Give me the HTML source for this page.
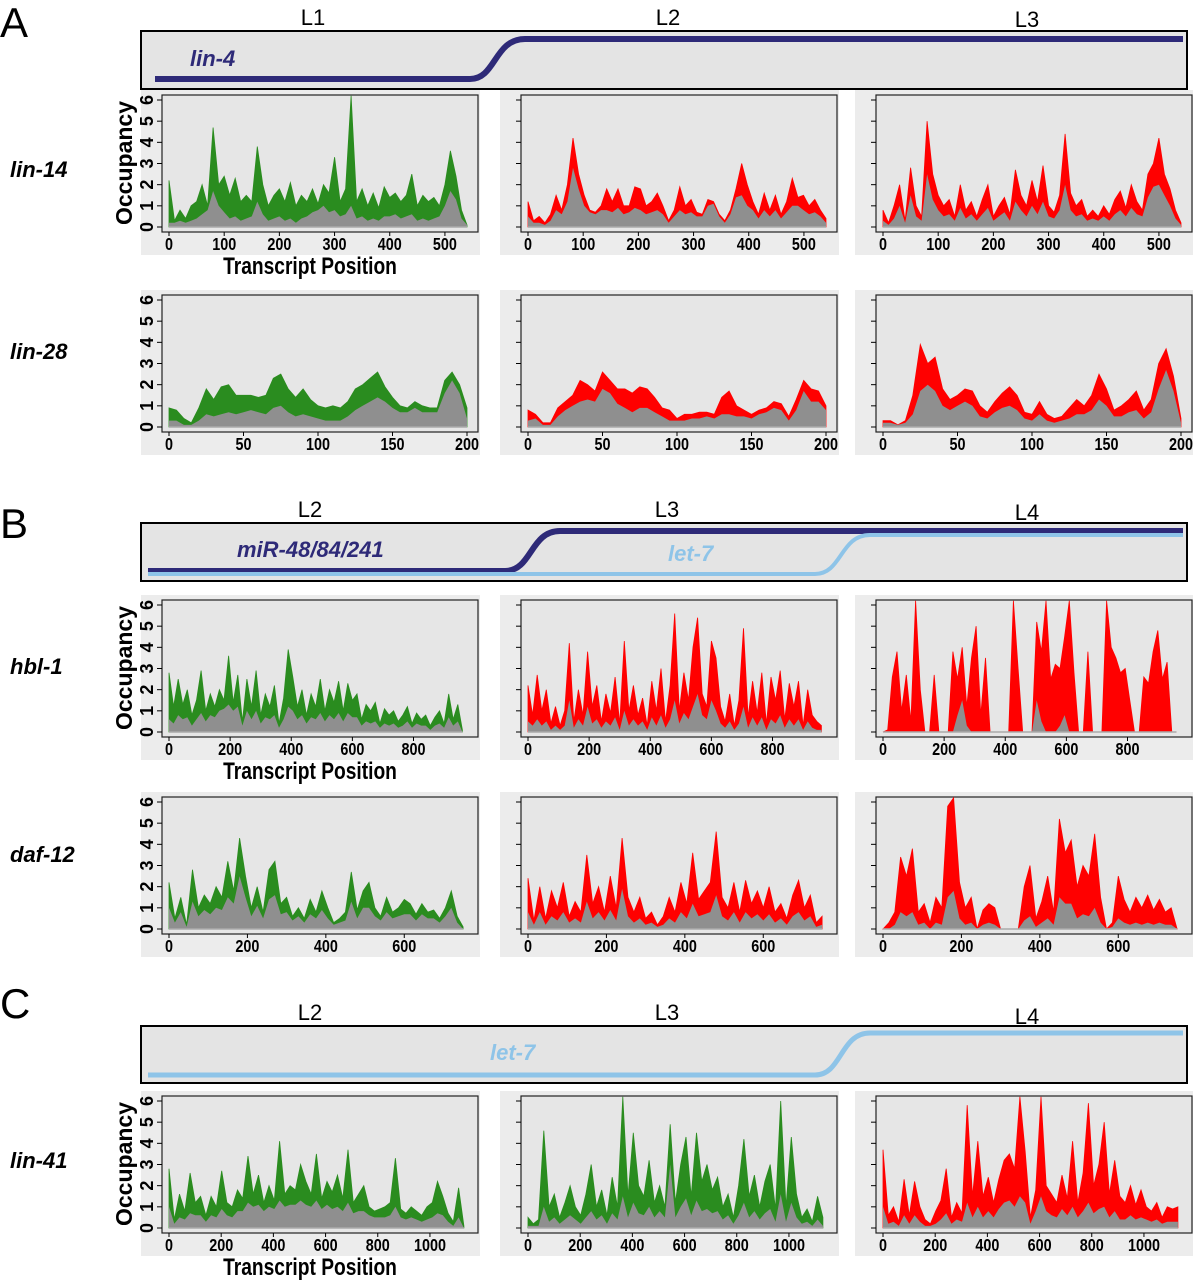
<!DOCTYPE html>
<html><head><meta charset="utf-8">
<style>
html,body{margin:0;padding:0;background:#fff;}
svg{display:block;font-family:"Liberation Sans",sans-serif;}
.stage{font-size:22px;fill:#000;}
.gene{font-size:22px;font-weight:bold;font-style:italic;fill:#000;}
.tick{font-size:18px;fill:#000;font-weight:bold;}
</style></head>
<body>
<svg id="fig" width="1193" height="1280" viewBox="0 0 1193 1280" xmlns="http://www.w3.org/2000/svg">
  <text x="0" y="37" font-size="42">A</text>
  <text x="0" y="538" font-size="42">B</text>
  <text x="0" y="1018" font-size="42">C</text>

  <text class="stage" x="313" y="25" text-anchor="middle">L1</text>
  <text class="stage" x="668" y="25" text-anchor="middle">L2</text>
  <text class="stage" x="1027" y="27" text-anchor="middle">L3</text>
  <rect x="141" y="31" width="1046" height="58" fill="#e4e4e4" stroke="#000" stroke-width="2"/>
  <path d="M155,79 L470,79 C496,79 494,39 525,39 L1183,39" fill="none" stroke="#2e2a78" stroke-width="6"/>
  <text x="190" y="66" font-size="22" font-weight="bold" font-style="italic" fill="#2e2a78">lin-4</text>

  <text class="stage" x="310" y="517" text-anchor="middle">L2</text>
  <text class="stage" x="667" y="517" text-anchor="middle">L3</text>
  <text class="stage" x="1027" y="520" text-anchor="middle">L4</text>
  <rect x="141" y="523" width="1046" height="58" fill="#e4e4e4" stroke="#000" stroke-width="2"/>
  <path d="M148,571 L505,571 C532,571 530,531 560,531 L1183,531" fill="none" stroke="#2e2a78" stroke-width="6"/>
  <path d="M148,574 L815,574 C842,574 840,535 870,535 L1183,535" fill="none" stroke="#8ec4e8" stroke-width="4"/>
  <text x="237" y="557" font-size="22" font-weight="bold" font-style="italic" fill="#2e2a78">miR-48/84/241</text>
  <text x="668" y="561" font-size="22" font-weight="bold" font-style="italic" fill="#8ec4e8">let-7</text>

  <text class="stage" x="310" y="1020" text-anchor="middle">L2</text>
  <text class="stage" x="667" y="1020" text-anchor="middle">L3</text>
  <text class="stage" x="1027" y="1024" text-anchor="middle">L4</text>
  <rect x="141" y="1026" width="1046" height="57" fill="#e4e4e4" stroke="#000" stroke-width="2"/>
  <path d="M148,1075 L815,1075 C842,1075 840,1033 870,1033 L1183,1033" fill="none" stroke="#8ec4e8" stroke-width="5"/>
  <text x="490" y="1060" font-size="22" font-weight="bold" font-style="italic" fill="#8ec4e8">let-7</text>

  <text class="gene" x="10" y="177">lin-14</text>
  <text class="gene" x="10" y="359">lin-28</text>
  <text class="gene" x="10" y="674">hbl-1</text>
  <text class="gene" x="10" y="862">daf-12</text>
  <text class="gene" x="10" y="1168">lin-41</text>
  <g id="plots"></g>
</svg>
<script>
// ---- data (occupancy values, evenly spaced over transcript) ----
const lin14_L1_top=[2.2,0.3,0.8,0.4,1.0,1.2,2.0,1.0,4.7,2.0,2.4,1.5,2.3,1.2,1.5,1.2,3.8,2.0,1.0,1.5,1.8,1.2,2.1,1.0,1.5,1.2,1.8,1.1,2.0,1.6,3.3,1.2,1.8,6.2,1.2,1.8,1.0,1.6,0.9,1.9,1.4,1.6,1.2,1.5,2.5,1.0,1.5,1.2,1.4,1.0,2.0,3.6,2.4,0.8,0.1];
const lin14_L1_gray=[0.2,0.2,0.3,0.2,0.3,0.4,0.6,0.8,1.7,1.0,0.7,0.4,0.5,0.3,0.4,0.5,1.2,0.6,0.3,0.4,0.5,0.3,0.4,0.2,0.4,0.5,0.7,0.8,1.0,0.7,0.8,0.5,0.6,1.0,0.4,0.5,0.3,0.4,0.3,0.5,0.5,0.6,0.4,0.5,0.6,0.3,0.4,0.3,0.4,0.5,1.0,1.7,1.3,0.4,0.1];
const lin14_L2_top=[1.2,0.3,0.5,0.2,0.6,1.5,0.8,2.0,4.2,2.5,1.5,0.8,0.7,1.0,1.8,1.2,1.8,1.0,1.0,1.9,1.8,1.0,1.2,1.6,1.0,0.3,0.8,1.9,1.0,1.3,0.7,0.6,1.3,1.2,0.6,0.3,0.8,1.8,3.0,2.0,1.2,0.6,1.6,0.8,1.5,0.6,1.2,2.3,1.4,1.5,1.0,1.3,0.8,0.4];
const lin14_L2_gray=[0.5,0.2,0.2,0.1,0.3,0.8,0.6,1.2,2.8,1.8,1.0,0.7,0.6,0.8,0.8,0.7,0.9,0.6,0.7,0.9,0.8,0.6,0.7,0.8,0.6,0.2,0.5,0.8,0.6,0.7,0.5,0.5,1.0,1.1,0.5,0.2,0.6,1.4,1.5,1.0,0.8,0.4,0.8,0.5,0.8,0.4,0.7,1.0,1.0,0.8,0.6,0.7,0.5,0.2];
const lin14_L3_top=[0.8,0.2,1.0,2.0,0.3,2.8,1.0,0.5,5.0,2.5,1.5,1.0,1.3,0.5,2.0,0.8,1.2,0.5,1.3,2.0,0.5,1.0,1.4,0.6,2.7,1.5,1.0,2.2,1.2,2.9,1.0,0.7,1.5,4.4,1.6,1.0,1.3,0.5,0.8,0.5,1.0,0.6,1.3,1.7,0.9,2.0,1.2,0.8,2.5,3.0,4.2,2.5,1.8,0.8,0.2];
const lin14_L3_gray=[0.3,0.1,0.4,1.0,0.2,1.5,0.5,0.3,2.5,1.3,0.8,0.5,0.6,0.3,0.9,0.4,0.6,0.3,0.6,0.9,0.3,0.5,0.7,0.3,1.2,0.8,0.5,1.0,0.6,1.2,0.5,0.4,0.8,2.0,0.8,0.5,0.6,0.3,0.4,0.3,0.5,0.3,0.6,0.8,0.5,0.9,0.6,0.5,1.4,1.9,2.0,1.5,1.0,0.4,0.1];

const lin28_L1_top=[0.9,0.8,0.4,0.2,0.9,1.8,1.3,1.9,2.0,1.5,1.5,1.5,1.4,1.5,2.3,2.5,1.8,1.4,1.8,1.3,1.0,0.9,1.0,0.9,1.2,1.8,2.0,2.3,2.6,1.9,1.4,1.0,0.9,1.2,1.0,0.9,0.9,2.2,2.6,2.0,0.9];
const lin28_L1_gray=[0.3,0.3,0.1,0.1,0.3,0.6,0.5,0.6,0.7,0.6,0.7,0.8,0.7,0.6,0.9,1.0,0.7,0.5,0.6,0.5,0.4,0.3,0.3,0.3,0.5,0.8,1.0,1.2,1.4,1.2,0.9,0.7,0.7,0.9,0.7,0.7,0.7,1.6,2.2,1.6,0.4];
const lin28_L2_top=[0.8,0.6,0.2,0.2,0.9,1.2,1.5,2.2,2.0,1.7,2.6,2.2,1.8,1.8,1.6,1.9,1.8,1.4,0.9,0.8,0.4,0.6,0.6,0.7,0.7,0.6,1.4,1.7,1.0,0.8,0.6,0.8,0.9,1.2,1.1,0.5,1.3,2.2,1.8,1.7,1.0];
const lin28_L2_gray=[0.3,0.4,0.1,0.1,0.5,0.8,1.0,1.2,1.3,1.2,1.8,1.6,1.1,0.9,0.7,0.9,0.9,0.7,0.5,0.3,0.3,0.3,0.4,0.4,0.5,0.4,0.6,0.6,0.5,0.5,0.4,0.6,0.7,0.9,0.8,0.3,0.8,1.7,1.2,1.2,0.8];
const lin28_L3_top=[0.3,0.3,0.1,0.3,1.5,3.9,3.0,3.3,1.8,1.3,1.5,1.8,1.7,1.0,0.7,1.2,1.6,1.9,1.5,0.7,0.6,1.2,0.6,0.4,0.5,0.9,1.3,1.0,1.5,2.5,1.8,0.8,1.0,1.3,1.7,0.8,1.3,3.0,3.7,2.4,0.4];
const lin28_L3_gray=[0.2,0.2,0.1,0.2,0.6,1.7,2.0,1.7,1.0,0.8,1.0,1.2,1.0,0.5,0.4,0.7,0.9,1.0,0.8,0.4,0.3,0.6,0.3,0.2,0.3,0.4,0.6,0.6,0.8,1.3,1.0,0.5,0.5,0.7,0.8,0.4,0.7,1.8,2.7,1.7,0.2];

const hbl1_L2_top=[2.8,1.2,2.5,1.3,2.0,0.8,1.5,2.9,1.0,1.8,1.2,2.0,1.5,3.6,1.4,2.7,0.5,2.5,1.2,2.9,0.8,1.8,1.2,2.2,0.4,1.6,3.9,2.6,1.2,2.0,0.8,1.8,1.2,2.5,1.0,2.0,1.4,2.4,1.0,2.3,1.5,1.8,0.6,1.3,1.0,1.4,0.4,1.1,0.8,1.0,0.5,0.8,1.2,0.4,0.9,0.6,0.8,0.3,0.7,1.0,0.4,1.8,0.6,1.3,0.1];
const hbl1_L2_gray=[0.6,0.4,0.8,0.6,0.7,0.3,0.6,0.9,0.5,0.8,0.7,1.0,1.1,1.3,1.0,1.2,0.3,1.0,0.6,1.0,0.4,0.7,0.6,0.8,0.2,0.6,1.2,1.0,0.6,0.8,0.4,0.7,0.6,0.9,0.5,0.8,0.6,0.9,0.5,0.9,0.7,0.7,0.3,0.5,0.4,0.5,0.2,0.4,0.3,0.4,0.2,0.3,0.5,0.2,0.4,0.3,0.3,0.1,0.3,0.4,0.2,0.7,0.3,0.5,0.0];
const hbl1_L3_top=[2.2,0.8,2.7,1.0,2.0,0.4,1.2,0.3,1.0,4.2,0.5,2.0,0.8,3.8,1.2,2.2,0.5,1.8,0.9,2.6,0.4,4.3,1.0,2.2,0.8,1.6,0.3,2.4,1.0,3.0,0.5,2.2,5.6,1.0,2.8,1.5,4.0,5.4,1.8,1.2,4.3,3.5,1.2,0.5,1.8,0.3,1.5,4.9,0.7,2.4,0.9,2.8,0.4,2.6,1.5,2.9,0.6,2.3,1.2,2.4,0.3,2.0,0.8,0.5,0.3];
const hbl1_L3_gray=[0.5,0.3,0.6,0.3,0.5,0.1,0.3,0.1,0.3,1.5,0.2,0.6,0.3,1.2,0.4,0.6,0.2,0.5,0.3,0.7,0.1,1.0,0.3,0.6,0.3,0.5,0.1,0.7,0.3,0.8,0.2,0.6,1.5,0.4,0.9,0.6,1.2,1.8,0.8,0.6,1.5,1.0,0.4,0.2,0.5,0.1,0.4,1.2,0.2,0.7,0.3,0.7,0.1,0.6,0.4,0.8,0.2,0.6,0.3,0.6,0.1,0.5,0.2,0.1,0.1];
const hbl1_L4_top=[0,0.1,2.6,3.8,1.0,2.7,0.5,6.2,2.0,0,0,2.7,0,0,0,3.8,2.5,4.0,1.2,3.5,5.0,0.8,3.5,0,0,0,0,0,6.2,3.0,0,0,0,5.2,3.8,6.2,2.5,3.2,3.0,4.5,6.2,2.8,0,0,3.8,0,0,0,6.2,4.0,3.5,2.8,3.0,1.5,0,0,2.6,2.3,3.8,4.8,2.5,3.3,0,0];
const hbl1_L4_gray=[0,0,0,0,0,0,0,0,0,0,0,0,0,0,0,0,0.8,1.5,0.3,0,0,0,0,0,0,0,0,0,0,0,0,0,0,1.5,0.5,0,0,0,0.3,0.8,0,0,0,0,0,0,0,0,0,0,0,0,0,0,0,0,0,0,0,0,0,0,0,0];

const daf12_L2_top=[2.2,0.5,1.5,0.2,2.8,1.0,1.6,1.2,2.0,1.5,3.2,1.8,4.3,2.5,1.0,2.0,0.8,2.8,3.2,1.2,1.5,0.6,1.0,0.5,1.4,0.8,1.8,1.0,0.3,0.5,0.8,2.7,0.9,1.8,2.2,1.0,0.6,1.5,0.8,1.0,1.4,1.2,0.7,1.2,0.8,0.9,0.5,1.0,1.8,0.6,0.1];
const daf12_L2_gray=[1.0,0.3,0.8,0.1,1.3,0.6,0.9,0.7,1.0,0.9,1.5,1.2,2.5,1.5,0.6,1.1,0.5,1.4,1.6,0.7,0.8,0.4,0.6,0.3,0.7,0.5,0.9,0.5,0.2,0.3,0.4,1.3,0.5,1.0,1.0,0.6,0.4,0.8,0.5,0.6,0.7,0.7,0.4,0.7,0.5,0.5,0.3,0.6,1.0,0.3,0.0];
const daf12_L3_top=[2.4,0.4,2.0,0.5,1.8,1.0,2.2,0.6,1.3,0.8,3.5,1.2,2.0,0.8,2.5,1.0,4.3,1.5,0.8,1.5,0.5,0.8,0.2,0.6,1.5,0.8,2.2,1.2,3.6,1.4,1.8,2.2,4.6,1.5,1.0,2.2,0.8,2.3,1.2,1.8,1.0,2.0,0.8,1.2,0.5,1.6,2.3,1.0,1.6,0.3,0.6];
const daf12_L3_gray=[0.8,0.2,0.8,0.2,0.6,0.4,0.8,0.3,0.5,0.3,1.3,0.5,0.8,0.4,0.9,0.4,1.9,0.6,0.3,0.5,0.2,0.3,0.1,0.2,0.5,0.3,0.8,0.5,1.2,0.6,0.7,0.8,1.6,0.6,0.4,0.8,0.3,0.8,0.5,0.7,0.4,0.7,0.3,0.5,0.2,0.6,0.8,0.4,0.6,0.1,0.2];
const daf12_L4_top=[0,0.3,0.8,3.4,2.5,3.8,0.8,1.2,0.3,1.5,1.0,5.8,6.2,2.2,1.0,1.5,0,0.9,1.2,1.0,0,0,0,0,2.0,3.0,0.5,1.3,2.5,0.8,5.2,3.6,4.2,2.0,3.0,2.5,4.5,1.5,0,0.3,2.5,1.4,0.8,1.5,1.0,1.6,0.9,1.4,0.8,1.0,0];
const daf12_L4_gray=[0,0,0.2,0.8,0.6,0.8,0.2,0.3,0,0.3,0.2,1.5,1.8,0.5,0.2,0.3,0,0.2,0.3,0.2,0,0,0,0,0.4,0.6,0.1,0.3,0.5,0.2,1.5,1.2,1.2,0.5,0.7,0.6,1.0,0.3,0,0.1,0.5,0.3,0.2,0.3,0.2,0.3,0.2,0.3,0.2,0.2,0];

const lin41_L2_top=[2.8,0.4,1.6,0.8,2.6,1.2,1.5,0.6,1.5,1.0,2.7,1.2,1.0,1.8,1.4,3.4,1.6,2.5,1.2,2.0,1.3,4.1,1.6,2.0,1.8,3.0,2.2,1.6,3.5,1.4,2.2,1.7,2.5,1.4,3.7,1.2,1.6,2.0,1.0,0.8,0.9,1.0,1.2,3.3,0.9,0.7,1.0,0.8,0.6,1.0,1.2,2.2,1.5,0.7,0.3,1.9,0.1];
const lin41_L2_gray=[1.0,0.2,0.5,0.4,0.7,0.6,0.6,0.3,0.6,0.5,0.9,0.6,0.5,0.8,0.8,1.2,1.0,1.1,0.8,1.0,0.9,1.3,1.0,1.1,1.1,1.3,1.1,1.0,1.3,0.9,1.1,0.9,1.0,0.8,1.2,0.7,0.8,0.8,0.6,0.5,0.5,0.5,0.6,1.0,0.5,0.4,0.5,0.4,0.3,0.4,0.5,0.7,0.6,0.3,0.1,0.5,0.0];
const lin41_L3_top=[0.5,0.2,0.4,4.6,1.0,1.6,0.5,1.2,2.0,1.0,0.6,1.6,3.0,1.0,1.8,0.6,2.4,1.0,6.2,1.5,4.5,2.0,1.5,3.2,1.2,2.0,1.0,4.9,1.2,3.0,4.3,1.5,4.5,2.2,3.0,1.8,2.4,1.0,1.6,0.5,2.0,4.2,1.5,2.5,1.0,2.2,3.0,0.9,6.0,1.0,4.3,1.6,0.5,0.9,0.3,1.5,0.5];
const lin41_L3_gray=[0.1,0.1,0.1,1.0,0.3,0.5,0.2,0.4,0.6,0.4,0.2,0.5,0.8,0.4,0.6,0.2,0.7,0.4,1.5,0.5,1.2,0.7,0.6,1.0,0.5,0.8,0.5,3.0,0.5,1.0,1.4,0.6,1.3,0.8,0.9,0.7,0.8,0.4,0.6,0.2,0.6,1.2,0.5,0.8,0.4,0.7,0.9,0.3,1.6,0.3,1.2,0.5,0.2,0.3,0.1,0.4,0.1];
const lin41_L4_top=[3.7,0.6,1.0,0.3,2.3,0.6,2.2,1.0,0.4,0.2,0.8,1.3,2.8,0.5,1.2,0.7,5.8,1.5,4.1,1.5,2.4,1.2,2.3,3.2,3.5,2.8,6.2,3.6,0.5,1.8,6.2,2.0,1.6,1.2,2.5,1.4,4.1,1.2,2.6,5.9,2.0,3.0,5.0,1.6,3.2,1.5,1.2,2.0,1.1,1.8,1.0,0.8,1.2,0.5,1.0,0.9,1.0];
const lin41_L4_gray=[1.0,0.2,0.3,0.1,0.6,0.2,0.6,0.3,0.1,0.1,0.2,0.4,0.7,0.2,0.4,0.3,1.2,0.5,1.0,0.5,0.8,0.5,0.9,1.2,1.3,1.0,1.5,1.2,0.2,0.8,1.5,0.8,0.6,0.5,0.9,0.6,1.0,0.5,0.8,1.2,0.7,0.9,1.0,0.5,0.8,0.4,0.4,0.6,0.4,0.5,0.4,0.3,0.4,0.2,0.3,0.3,0.3];

// transcript extents (data end) and tick labels per row
const rowLengths=[540,200,960,750,1130];
const rowAxisMax=[540,200,975,760,1142];
const xTicksLin14=[0,100,200,300,400,500];
const xTicksLin28=[0,50,100,150,200];
const xTicksHbl1=[0,200,400,600,800];
const xTicksDaf12=[0,200,400,600];
const xTicksLin41=[0,200,400,600,800,1000];
const yTicks=[0,1,2,3,4,5,6];

// ---- layout ----
const NS='http://www.w3.org/2000/svg';
const g=document.getElementById('plots');
const colX=[162,521,876];
const rowY=[95,295,600,797,1096];
const BW=316, BH=137;
const GREEN='#2a8c1f', RED='#ff0000', GRAY='#8f8f8f';
const rows=[
 {name:'lin-14',ticks:xTicksLin14,series:[[lin14_L1_top,lin14_L1_gray,GREEN],[lin14_L2_top,lin14_L2_gray,RED],[lin14_L3_top,lin14_L3_gray,RED]],title:true},
 {name:'lin-28',ticks:xTicksLin28,series:[[lin28_L1_top,lin28_L1_gray,GREEN],[lin28_L2_top,lin28_L2_gray,RED],[lin28_L3_top,lin28_L3_gray,RED]],title:false},
 {name:'hbl-1',ticks:xTicksHbl1,series:[[hbl1_L2_top,hbl1_L2_gray,GREEN],[hbl1_L3_top,hbl1_L3_gray,RED],[hbl1_L4_top,hbl1_L4_gray,RED]],title:true},
 {name:'daf-12',ticks:xTicksDaf12,series:[[daf12_L2_top,daf12_L2_gray,GREEN],[daf12_L3_top,daf12_L3_gray,RED],[daf12_L4_top,daf12_L4_gray,RED]],title:false},
 {name:'lin-41',ticks:xTicksLin41,series:[[lin41_L2_top,lin41_L2_gray,GREEN],[lin41_L3_top,lin41_L3_gray,GREEN],[lin41_L4_top,lin41_L4_gray,RED]],title:true}
];
function mk(tag,attrs){const e=document.createElementNS(NS,tag);for(const k in attrs)e.setAttribute(k,attrs[k]);return e;}

rows.forEach((row,ri)=>{
  const T=rowY[ri];
  const y0=T+BH-5, y6=T+5;
  const yScale=v=>y0-(Math.min(v,6.2))*(y0-y6)/6;
  const axMax=rowAxisMax[ri], len=rowLengths[ri];
  row.series.forEach((s,ci)=>{
    const L=colX[ci];
    const xScale=v=>L+7+v/axMax*298;
    const bg=mk('rect',{x:L-21,y:T-5,width:BW+23,height:BH+28,fill:'#ececec'});
    
    
    g.appendChild(bg);
    const box=mk('rect',{x:L,y:T,width:BW,height:BH,fill:'#e6e6e6',stroke:'#222','stroke-width':1.2});
    
    
    g.appendChild(box);
    [[s[0],s[2]],[s[1],GRAY]].forEach(([arr,col],k)=>{
      const n=arr.length;
      let pts=xScale(0).toFixed(1)+','+y0;
      arr.forEach((v,i)=>{pts+=' '+xScale(i*len/(n-1)).toFixed(1)+','+yScale(v).toFixed(1);});
      pts+=' '+xScale(len).toFixed(1)+','+y0;
      const p=mk('polygon',{points:pts,fill:col,stroke:k===0?col:'none','stroke-width':0.8});
      
      
      g.appendChild(p);
    });
    const base=mk('line',{x1:xScale(0),x2:xScale(len),y1:y0,y2:y0,stroke:'#aaa','stroke-width':1.5});
    
    
    g.appendChild(base);
    yTicks.forEach(t=>{
      const tm=mk('line',{x1:L-5,x2:L,y1:yScale(t),y2:yScale(t),stroke:'#000','stroke-width':1});
      
      
      g.appendChild(tm);
      if(ci===0){
        const tl=mk('text',{x:0,y:0,class:'tick','text-anchor':'middle',transform:'translate('+(L-9)+','+yScale(t)+') rotate(-90)'});
        tl.textContent=t;
        
        
        g.appendChild(tl);
      }
    });
    row.ticks.forEach(t=>{
      const tm=mk('line',{x1:xScale(t),x2:xScale(t),y1:T+BH,y2:T+BH+4,stroke:'#000','stroke-width':1});
      
      
      g.appendChild(tm);
      const tl=mk('text',{x:0,y:0,class:'tick','text-anchor':'middle',transform:'translate('+xScale(t)+','+(T+BH+18)+') scale(0.8,1)'});
      tl.textContent=t;
      
      
      g.appendChild(tl);
    });
  });
  if(row.title){
    const yt=mk('text',{x:0,y:0,'font-size':23,'font-weight':'bold','text-anchor':'middle',transform:'translate(132,'+(T+68)+') rotate(-90)'});
    yt.textContent='Occupancy';
    
    
    g.appendChild(yt);
    const xt=mk('text',{x:0,y:0,'font-size':24,'font-weight':'bold','text-anchor':'middle',transform:'translate(310,'+(T+BH+42)+') scale(0.8,1)'});
    xt.textContent='Transcript Position';
    
    
    g.appendChild(xt);
  }
});
</script>
</body></html>
